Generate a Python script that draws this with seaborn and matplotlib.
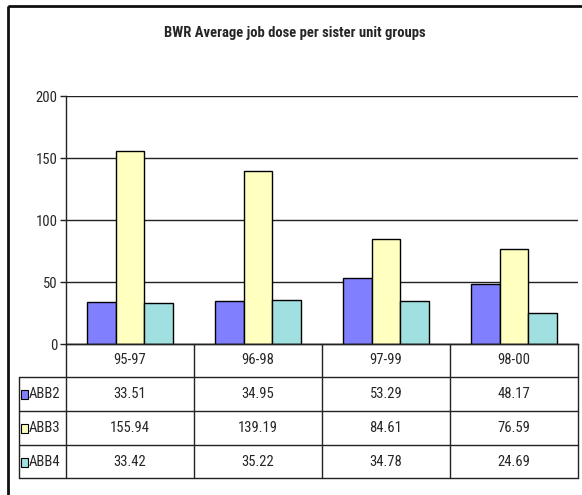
import pandas as pd
import seaborn as sns
import matplotlib.pyplot as plt
from matplotlib.patches import Rectangle

# data
periods = ['95-97', '96-98', '97-99', '98-00']
units = ['ABB2', 'ABB3', 'ABB4']
abb2 = [33.51, 34.95, 53.29, 48.17]
abb3 = [155.94, 139.19, 84.61, 76.59]
abb4 = [33.42, 35.22, 34.78, 24.69]
colors = ['#8080FF', '#FFFFC0', '#A0E0E0']

rows = []
for unit, vals in zip(units, [abb2, abb3, abb4]):
    for p, v in zip(periods, vals):
        rows.append((p, unit, v))
df = pd.DataFrame(rows, columns=['period', 'unit', 'dose'])

sns.set_style('white')
plt.rcParams['font.family'] = ['Roboto Condensed', 'Liberation Sans', 'DejaVu Sans']

W, H = 582, 495
fig = plt.figure(figsize=(W / 100, H / 100), dpi=100)

# pixel helper for layout
def box(x0, y0, x1, y1):
    return [x0 / W, 1 - y1 / H, (x1 - x0) / W, (y1 - y0) / H]

left, right, top, bottom = 66, 578, 96, 344

ax = fig.add_axes(box(left, top, right, bottom))
sns.barplot(data=df, x='period', y='dose', hue='unit', palette=colors,
            edgecolor='black', linewidth=1, width=0.67, saturation=1,
            legend=False, ax=ax)
ax.set_ylim(0, 200)
ax.set_yticks([0, 50, 100, 150, 200])
ax.set_xlim(-0.5, len(periods) - 0.5)
ax.yaxis.grid(True, color='#222222', linewidth=1)
ax.set_axisbelow(True)
for s in ['top', 'right']:
    ax.spines[s].set_visible(False)
for s in ['left', 'bottom']:
    ax.spines[s].set_color('#222222')
    ax.spines[s].set_linewidth(1)
ax.tick_params(axis='y', left=True, length=4, width=1, color='#222222',
               labelsize=10.5, pad=2)
ax.tick_params(axis='x', bottom=False, labelbottom=False)
ax.set_xlabel('')
ax.set_ylabel('')

# data table under the plot, drawn in pixel space
tab = fig.add_axes([0, 0, 1, 1], facecolor='none')
tab.set_xlim(0, W)
tab.set_ylim(H, 0)
tab.axis('off')

lc = '#222222'
col_w = (right - left) / len(periods)
row_y = [344, 377, 411, 445, 478]
label_x0 = 19

# frame round the whole chart
tab.add_patch(Rectangle((8, 6), 600, 600, fill=False, edgecolor='#111111', linewidth=2))

# horizontal lines
tab.plot([left, right], [row_y[0], row_y[0]], color=lc, lw=1)
for y in row_y[1:]:
    tab.plot([label_x0, right], [y, y], color=lc, lw=1)
# vertical lines
tab.plot([label_x0, label_x0], [row_y[1], row_y[-1]], color=lc, lw=1)
for i in range(len(periods) + 1):
    x = left + i * col_w
    tab.plot([x, x], [row_y[0], row_y[-1]], color=lc, lw=1)

fs = 10.5
for i, p in enumerate(periods):
    tab.text(left + (i + 0.5) * col_w, (row_y[0] + row_y[1]) / 2, p,
             ha='center', va='center', fontsize=fs)

for r, (unit, vals, c) in enumerate(zip(units, [abb2, abb3, abb4], colors)):
    yc = (row_y[r + 1] + row_y[r + 2]) / 2
    tab.add_patch(Rectangle((21, yc - 4), 7, 9, facecolor=c, edgecolor='black', lw=0.8))
    tab.text(29, yc, unit, ha='left', va='center', fontsize=fs)
    for i, v in enumerate(vals):
        tab.text(left + (i + 0.5) * col_w, yc, f'{v:.2f}',
                 ha='center', va='center', fontsize=fs)

fig.text(295 / W, 1 - 33 / H, 'BWR Average job dose per sister unit groups',
         ha='center', va='center', fontsize=10.5, fontweight='bold')

fig.savefig('out.png', dpi=100)
